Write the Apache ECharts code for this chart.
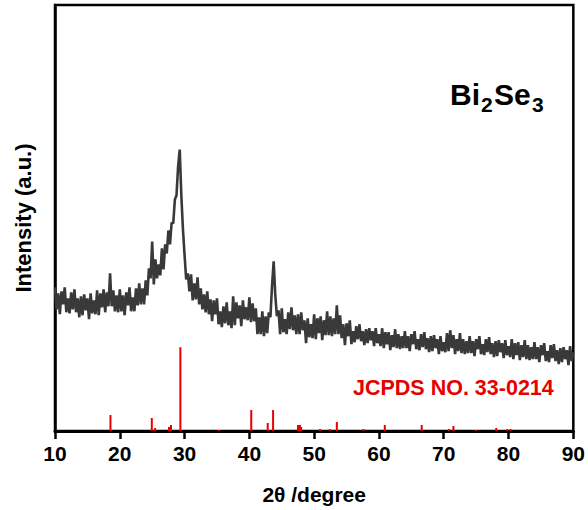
<!DOCTYPE html>
<html>
<head>
<meta charset="utf-8">
<script src="https://cdn.jsdelivr.net/npm/echarts@6/dist/echarts.min.js"></script>
<style>
html,body{margin:0;padding:0;background:#fff;}
#chart{width:588px;height:510px;}
</style>
</head>
<body>
<div id="chart"></div>
<script>
// XRD scan: 2-theta from 10 to 90 deg, step 0.25 deg
const thetaStart = 10;
const thetaStep = 0.25;
const intensity = [
144,122,138,117, 140,127,144,119, 133,118,139,122, 142,119,133,114,
135,116,137,121, 133,112,138,118, 131,117,141,116, 138,124,142,119,
139,125,158,125, 141,120,136,119, 142,120,136,116, 139,126,144,120,
134,120,143,126, 148,127,143,127, 151,136,163,153, 190,147,172,153,
167,156,183,162, 187,178,201,187, 209,208,232,236, 265,282,236,202,
176,152,158,140, 157,131,148,132, 154,127,143,122, 137,119,140,117,
132,110,131,117, 133,107,120,104, 125,108,129,106, 120,103,135,106,
129,113,126,105, 131,112,124,111, 134,109,128,110, 123,97,114,97,
120,95,115,98, 119,114,146,170, 136,115,121,97, 123,99,112,97,
119,102,124,101, 116,97,117,97, 119,101,111,88, 113,94,107,93,
117,92,113,98, 115,91,111,96, 120,96,115,95, 113,97,126,97,
116,93,107,86, 108,95,111,87, 100,89,105,92, 107,90,100,86,
102,88,103,91, 100,85,103,88, 97,85,103,83, 99,87,99,81,
96,84,102,83, 97,82,95,83, 100,83,95,80, 97,87,100,82,
92,81,97,84, 99,82,93,79, 95,80,96,83, 92,77,95,80,
89,79,98,80, 101,83,96,77, 92,80,98,78, 92,77,90,78,
95,78,90,75, 92,82,95,77, 87,76,92,79, 94,77,88,74,
90,75,91,79, 88,73,91,76, 85,74,92,72, 88,76,89,71,
86,74,91,72, 86,71,84,72, 89,72,84,69, 86,76,88,70,
80,69,86,73, 87,70,81,67, 83,69,84,72, 81,66,85,70,
79
];
// JCPDS 33-0214 reference lines
const refTheta = [18.56, 24.94, 25.45, 27.6, 27.9, 29.35, 35.3, 40.29, 42.83, 43.66, 47.5, 47.8, 48.0, 50.9, 52.4, 53.5, 57.6, 60.9, 66.6, 70.8, 71.5, 75.0, 78.1, 79.8, 80.3];
const refHeight = [16, 13, 3, 4, 6, 84, 1, 21, 8, 21, 6, 6, 4, 2, 2, 9, 2, 6, 6, 2, 5, 1, 3, 2, 2];
const xTicks = [10, 20, 30, 40, 50, 60, 70, 80, 90];

const scan = intensity.map((v, i) => [thetaStart + i * thetaStep, v]);
const sticks = refTheta.map((t, i) => [t, refHeight[i]]);

const FONT = 'Liberation Sans, Arial, sans-serif';
const big = {fontFamily: FONT, fontWeight: 'bold', fontSize: 30, fill: '#000'};
const sub = {fontFamily: FONT, fontWeight: 'bold', fontSize: 21, fill: '#000'};
const chart = echarts.init(document.getElementById('chart'), null, {renderer: 'svg'});
chart.setOption({
  animation: false,
  backgroundColor: '#fff',
  grid: {left: 55, right: 13, top: 5, bottom: 78, show: true, borderColor: '#000', borderWidth: 2.5, containLabel: false},
  xAxis: {
    type: 'value', min: 10, max: 90, interval: 10,
    name: '2\u03B8 /degree', nameLocation: 'middle', nameGap: 53,
    nameTextStyle: {fontFamily: FONT, fontWeight: 'bold', fontSize: 21, color: '#000'},
    axisLine: {show: true, lineStyle: {color: '#000', width: 3}},
    axisTick: {show: true, inside: false, length: 8, lineStyle: {color: '#000', width: 2.5}},
    axisLabel: {fontFamily: FONT, fontWeight: 'bold', fontSize: 21, color: '#000', margin: 12,
      formatter: v => (xTicks.indexOf(v) >= 0 ? String(v) : '')},
    splitLine: {show: false}
  },
  yAxis: {
    type: 'value', min: 0, max: 427,
    name: 'Intensity (a.u.)', nameLocation: 'middle', nameGap: 21, nameRotate: 90,
    nameTextStyle: {fontFamily: FONT, fontWeight: 'bold', fontSize: 22, color: '#000'},
    axisLine: {show: true, lineStyle: {color: '#000', width: 2.5}},
    axisTick: {show: false}, axisLabel: {show: false}, splitLine: {show: false}
  },
  series: [
    {type: 'line', data: scan, showSymbol: false, symbol: 'none',
     lineStyle: {color: '#393939', width: 2.6, join: 'bevel'}, z: 3},
    {type: 'bar', data: sticks, barWidth: 2, itemStyle: {color: '#e60000'}, z: 2}
  ],
  graphic: [
    {type: 'text', left: 450, top: 79, z: 10, style: Object.assign({text: 'Bi'}, big)},
    {type: 'text', left: 481, top: 94, z: 10, style: Object.assign({text: '2'}, sub)},
    {type: 'text', left: 494, top: 79, z: 10, style: Object.assign({text: 'Se'}, big)},
    {type: 'text', left: 532, top: 94, z: 10, style: Object.assign({text: '3'}, sub)},
    {type: 'text', left: 353, top: 377, z: 10,
     style: {text: 'JCPDS NO. 33-0214', fontFamily: FONT, fontWeight: 'bold', fontSize: 21.5, fill: '#e60000'}}
  ]
});
</script>
</body>
</html>
